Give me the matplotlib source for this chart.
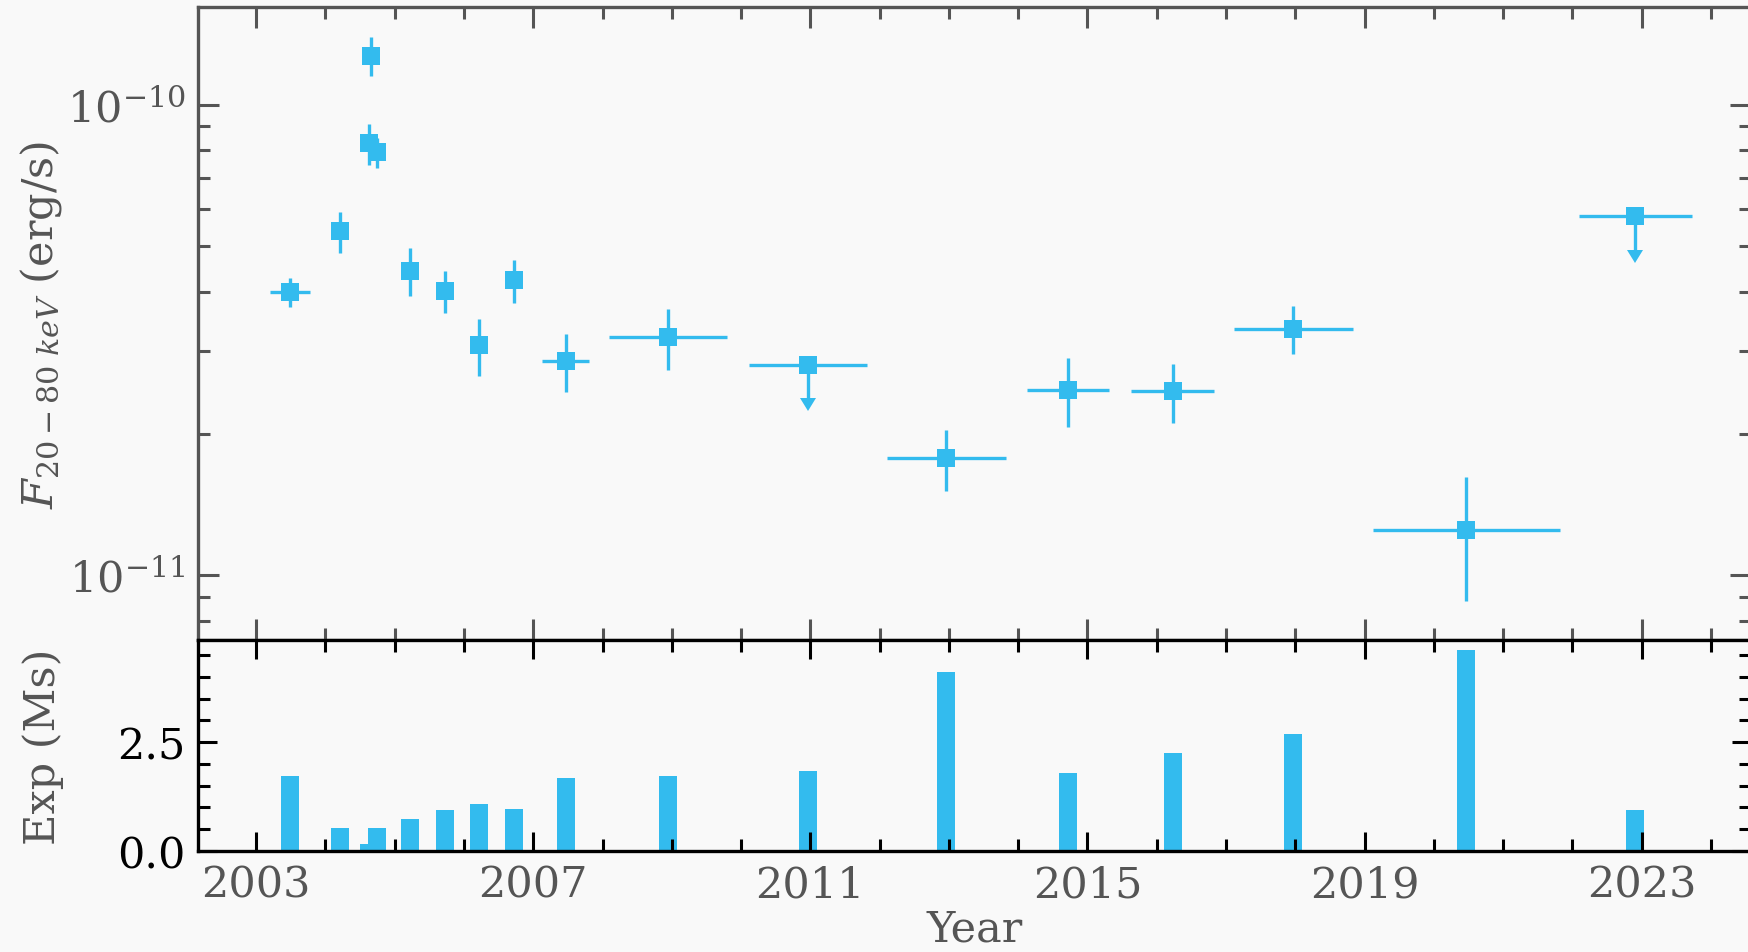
import matplotlib
matplotlib.use("Agg")
import matplotlib.pyplot as plt
from matplotlib.ticker import MultipleLocator, NullFormatter, FormatStrFormatter, LogLocator

# hard X-ray light curve: one entry per observing epoch, time ordered
year = [2003.49, 2004.21, 2004.63, 2004.66, 2004.74, 2005.22, 2005.72, 2006.21,
        2006.72, 2007.47, 2008.95, 2010.97, 2012.96, 2014.72, 2016.23, 2017.97,
        2020.47, 2022.91]
year_err = [0.29, 0.0, 0.0, 0.0, 0.0, 0.0, 0.0, 0.0,
            0.0, 0.34, 0.85, 0.85, 0.86, 0.59, 0.60, 0.86,
            1.35, 0.81]
# 20-80 keV flux in units of 1e-11 erg/s
flux = [4.00, 5.38, 8.28, 12.7, 7.92, 4.44, 4.02, 3.08,
        4.23, 2.85, 3.20, 2.80, 1.77, 2.48, 2.46, 3.34,
        1.25, 5.79]
flux_err = [0.29, 0.53, 0.84, 1.22, 0.58, 0.52, 0.42, 0.43,
            0.44, 0.40, 0.47, 0.0, 0.26, 0.41, 0.35, 0.39,
            0.37, 0.0]
upper = [False, False, False, False, False, False, False, False,
         False, False, False, True, False, False, False, False,
         False, True]
# exposure per epoch (Ms)
exposure = [1.71, 0.53, 0.15, 0.10, 0.52, 0.73, 0.93, 1.085,
            0.95, 1.68, 1.71, 1.83, 4.11, 1.79, 2.25, 2.68,
            4.61, 0.94]

CYAN = "#33bbee"
BG = "#f9f9f9"
GRAY = "#555555"

plt.rcParams.update({
    "font.family": "DejaVu Serif",
    "mathtext.fontset": "dejavuserif",
    "font.size": 15.5,
})

fig = plt.figure(figsize=(8.745, 4.765), dpi=200, facecolor=BG)
ax = fig.add_axes([0.1132, 0.3269, 0.8878, 0.6647], facecolor=BG)
axb = fig.add_axes([0.1132, 0.1063, 0.8878, 0.2206], facecolor=BG, sharex=ax)

det = [i for i, u in enumerate(upper) if not u]
lim = [i for i, u in enumerate(upper) if u]

ax.errorbar([year[i] for i in det], [flux[i] * 1e-11 for i in det],
            xerr=[year_err[i] for i in det], yerr=[flux_err[i] * 1e-11 for i in det],
            fmt="s", color=CYAN, ms=6.6, mew=0, elinewidth=1.2, capsize=0)

# upper limits, drawn with a short downward arrow
ul = ax.errorbar([year[i] for i in lim], [flux[i] * 1e-11 for i in lim],
                 xerr=[year_err[i] for i in lim], yerr=[0.15 * flux[i] * 1e-11 for i in lim],
                 uplims=True, fmt="s", color=CYAN, ms=6.6, mew=0, elinewidth=1.2, capsize=0)
for cap in ul[1]:
    cap.set_markersize(6.0)
    cap.set_markeredgewidth(0)

ax.set_yscale("log")
ax.set_ylim(7.264e-12, 1.613e-10)
ax.set_yticks([1e-11, 1e-10])
ax.yaxis.set_minor_locator(LogLocator(base=10, subs=range(2, 10)))
ax.yaxis.set_minor_formatter(NullFormatter())
ax.set_xlim(2002.16, 2024.575)
ax.set_ylabel(r"$F_{20-80\ keV}$ (erg/s)", color=GRAY)
ax.yaxis.set_label_coords(-0.086, 0.5)

for s in ax.spines.values():
    s.set_color(GRAY)
    s.set_linewidth(1.2)
ax.tick_params(which="both", direction="in", top=True, right=True,
               color=GRAY, labelcolor=GRAY, width=1.1, pad=4.5)
ax.tick_params(which="major", length=7.5)
ax.tick_params(which="minor", length=4.2)
ax.tick_params(axis="x", labelbottom=False)

# exposure panel
axb.bar(year, exposure, width=0.26, color=CYAN)
axb.set_ylim(0, max(exposure) * 1.05)
axb.set_yticks([0, 2.5])
axb.yaxis.set_minor_locator(MultipleLocator(0.5))
axb.yaxis.set_major_formatter(FormatStrFormatter("%.1f"))
axb.set_xticks(range(2003, 2024, 4))
axb.xaxis.set_minor_locator(MultipleLocator(1))
axb.set_xlim(2002.16, 2024.575)

for s in axb.spines.values():
    s.set_color("black")
    s.set_linewidth(1.2)
axb.tick_params(which="both", direction="in", top=True, right=True,
                color="black", width=1.1, pad=4.5)
axb.tick_params(which="major", length=7.0)
axb.tick_params(which="minor", length=4.2)
axb.tick_params(axis="x", labelcolor=GRAY)
axb.set_ylabel("Exp (Ms)", color=GRAY)
axb.yaxis.set_label_coords(-0.086, 0.5)
axb.set_xlabel("Year", color=GRAY, labelpad=1)

fig.savefig("out.png", dpi=200, facecolor=BG)
